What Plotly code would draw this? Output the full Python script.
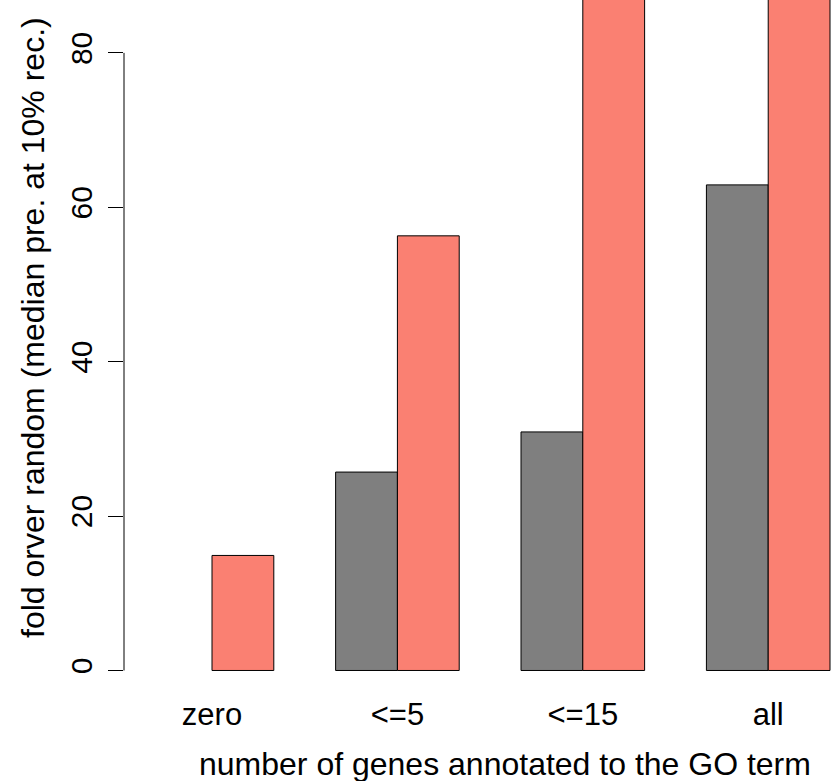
import plotly.graph_objects as go

categories = ["zero", "<=5", "<=15", "all"]
gray_values = [0, 25.7, 30.9, 62.9]
salmon_values = [14.9, 56.3, 100, 120]
y_ticks = [0, 20, 40, 60, 80]
x_title = "number of genes annotated to the GO term"
y_title = "fold orver random (median pre. at 10% rec.)"

FONT = "Liberation Sans, Arial, sans-serif"

L, R, T, B = 124, 0, 0, 91
W, H = 831, 781
PW, PH = W - L - R, H - T - B


def px_to_paper(px, py):
    return (px - L) / PW, 1 - (py - T) / PH


fig = go.Figure()
fig.add_trace(go.Bar(x=categories, y=gray_values,
                     marker=dict(color="#7f7f7f", line=dict(color="black", width=[0 if v == 0 else 1 for v in gray_values])),
                     showlegend=False))
fig.add_trace(go.Bar(x=categories, y=salmon_values,
                     marker=dict(color="#FA8072", line=dict(color="black", width=1)), showlegend=False))

fig.add_shape(type="line", xref="paper", yref="y", x0=0, x1=0, y0=y_ticks[0], y1=y_ticks[-1],
              line=dict(color="black", width=1))

xt = px_to_paper(505, 764)
yt = px_to_paper(33, 328)
fig.add_annotation(text=x_title, xref="paper", yref="paper", x=xt[0], y=xt[1],
                   xanchor="center", yanchor="middle", showarrow=False, font=dict(size=32))
fig.add_annotation(text=y_title, xref="paper", yref="paper", x=yt[0], y=yt[1], textangle=-90,
                   xanchor="center", yanchor="middle", showarrow=False, font=dict(size=32))

fig.update_layout(
    width=W, height=H,
    margin=dict(l=L, r=R, t=T, b=B, autoexpand=False),
    paper_bgcolor="white", plot_bgcolor="white",
    barmode="group", bargap=1/3, bargroupgap=0,
    font=dict(family=FONT, size=30, color="black"),
    hovermode=False,
    xaxis=dict(range=[-0.4747, 3.3387], showline=False, showgrid=False, zeroline=False, ticks="",
               tickfont=dict(size=31), ticklabelstandoff=3, automargin=False),
    yaxis=dict(range=[-2.53, 86.85], tickvals=y_ticks, ticks="outside", ticklen=15, tickwidth=1, tickcolor="black",
               showline=False, showgrid=False, zeroline=False, tickangle=-90, tickfont=dict(size=30),
               ticklabelstandoff=4, automargin=False),
)

fig.write_html("out.html", config={"displayModeBar": False, "staticPlot": True},
               post_script="document.body.style.margin='0';document.body.style.overflow='hidden';")
